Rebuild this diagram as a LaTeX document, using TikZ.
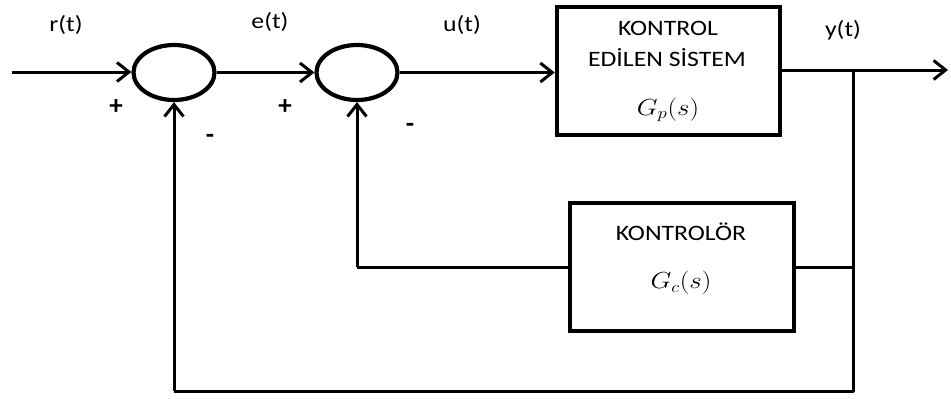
\documentclass[tikz,border=0pt]{standalone}
\usepackage{fontspec}
\setmainfont{Carlito}
\usepackage{graphicx}
\usetikzlibrary{arrows.meta,shapes.geometric}
\newcommand{\hs}[1]{\scalebox{1.17}[1]{#1}}
\newcommand{\hm}[1]{\scalebox{1.3}[1.12]{#1}}
\tikzset{
  sumnode/.style={draw, ellipse, line width=4.2pt, minimum width=81pt, minimum height=55pt, inner sep=0pt},
  blockbox/.style={draw, rectangle, line width=4.5pt, minimum width=223pt, minimum height=128pt, inner sep=0pt},
  wire/.style={line width=3pt},
  arr/.style={wire, -{Straight Barb[length=12pt,width=19pt]}},
  lbl/.style={font=\fontsize{22}{26}\selectfont, inner sep=0pt, text=black},
  sgn/.style={font=\fontsize{27}{30}\selectfont\bfseries, inner sep=0pt, text=black}
}
\begin{document}
\begin{tikzpicture}[x=1pt,y=-1pt]
\useasboundingbox (0,0) rectangle (951,399);
% nodes
\node[sumnode] (c1) at (174,72.5) {};
\node[sumnode] (c2) at (357,72.5) {};
\node[blockbox] (b1) at (668.5,71) {};
\node[blockbox, minimum width=224pt] (b2) at (682,267) {};
\coordinate (in) at (12,72);
\coordinate (br) at (853,70);
\coordinate (out) at (948,70);
\coordinate (bot) at (853,391);
% texts
\node[lbl] (t1) at (668,28) {\hs{KONTROL}};
\node[lbl] (t2) at (667,58) {\hs{EDİLEN SİSTEM}};
\node[lbl] (t3) at (668,110) {\hm{$G_p(s)$}};
\node[lbl] (t4) at (681,232) {\hs{KONTROLÖR}};
\node[lbl] (t5) at (681,283) {\hm{$G_c(s)$}};
\node[lbl] (r) at (66,25) {\hs{r(t)}};
\node[lbl] (e) at (270,22) {\hs{e(t)}};
\node[lbl] (u) at (462,25) {\hs{u(t)}};
\node[lbl] (y) at (843,30) {\hs{y(t)}};
\node[sgn] (p1) at (116,107) {+};
\node[sgn] (m1) at (210,139) {-};
\node[sgn] (p2) at (285,107) {+};
\node[sgn] (m2) at (410,128) {-};
% connectors
\draw[arr] (in) -- (c1.west |- in);
\draw[arr] (c1.east) -- (c2.west);
\draw[arr] (c2.east) -- (b1.west |- c2.east);
\draw[arr] (b1.east |- br) -- (out);
\draw[wire, line join=round] (br) -- (bot) -- (c1.south |- bot);
\draw[arr] (c1.south |- bot) -- (c1.south);
\draw[wire] (b2.east) -- (b2.east -| br);
\draw[wire] (b2.west) -- (c2.south |- b2.west);
\draw[arr] (c2.south |- b2.west) -- (c2.south);
\end{tikzpicture}
\end{document}
